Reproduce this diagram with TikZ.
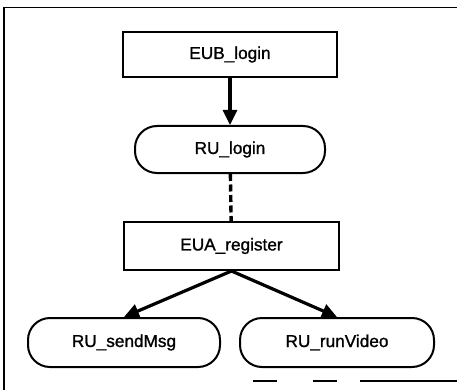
\documentclass[tikz,border=0pt]{standalone}
\usepackage{fontspec}
\setmainfont{Liberation Sans}[FakeBold=1.2]
\usetikzlibrary{arrows.meta}
\begin{document}
\begin{tikzpicture}[x=1pt,y=-1pt,
  lbl/.style={font=\fontsize{17.2}{20}\selectfont, inner sep=0pt},
  rectbox/.style={lbl, draw, line width=2pt},
  roundbox/.style={lbl, draw, line width=2pt, rounded corners=22pt},
  arr/.style={line width=3.2pt, -{Triangle[length=15pt,width=14pt]}},
  dashline/.style={line width=3.4pt, dash pattern=on 7pt off 3.5pt},
  frame/.style={line width=1.2pt}
]
\useasboundingbox (0,0) rectangle (457,390);
% frame
\draw[frame] (4,390) -- (4,7.5) -- (457,7.5);
\draw[frame] (253,381) -- (277,381);
\draw[frame] (313,381) -- (337,381);
\draw[frame] (360,381) -- (457,381);
% nodes
\node[rectbox, minimum width=214pt, minimum height=45pt] (eub) at (230,54.5) {EUB\_login};
\node[roundbox, minimum width=190pt, minimum height=47pt] (rulogin) at (230,149.5) {RU\_login};
\node[rectbox, minimum width=215pt, minimum height=48pt] (eua) at (231.5,246) {EUA\_register};
\node[roundbox, minimum width=192pt, minimum height=49pt] (send) at (124,342.5) {RU\_sendMsg};
\node[roundbox, minimum width=194pt, minimum height=49pt] (run) at (337,342.5) {RU\_runVideo};
% connectors
\draw[arr] (eub) -- (rulogin);
\draw[dashline] (rulogin) -- (eua);
\draw[arr] (eua.south) -- (send.north);
\draw[arr] (eua.south) -- (run.north);
\end{tikzpicture}
\end{document}
